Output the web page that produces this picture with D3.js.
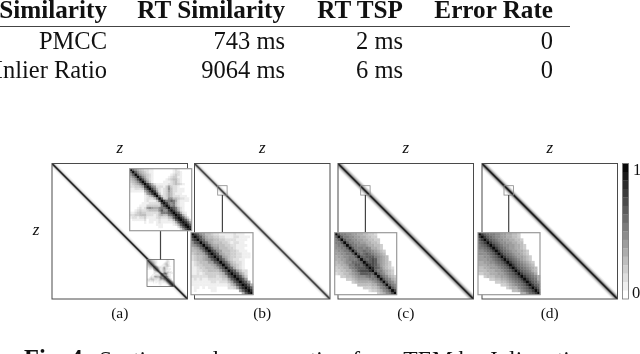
<!DOCTYPE html>
<html><head><meta charset="utf-8">
<script src="https://cdn.jsdelivr.net/npm/d3@7/dist/d3.min.js"></script>
<style>html,body{margin:0;padding:0;background:#fff;overflow:hidden}svg{display:block;filter:blur(0.35px)}text{font-family:"Liberation Serif",serif;fill:#111}</style>
</head><body><svg id="c" width="640" height="354"></svg>
<script>
// ---- table data
const tableHeaders = ["Similarity","RT Similarity","RT TSP","Error Rate"];
const rowNames = ["PMCC","Inlier Ratio"];
const rtSimilarity = ["743 ms","9064 ms"];
const rtTsp = ["2 ms","6 ms"];
const errorRate = ["0","0"];
// ---- panel data
const panelLabels = ["(a)","(b)","(c)","(d)"];
const axisLabel = "z";
const sections = 135;
// darkness of the main matrix by distance from the diagonal
const bandA = [.95,.62,.2,.1,.05,.03,.015];
const bandB = [.8,.55,.22,.12,.06,.03,.015];
const bandC = [.95,.72,.42,.3,.22,.14,.08,.03];
const bandD = [.95,.75,.42,.3,.2,.12,.06,.03];
// magnified upper triangles (hex darkness, row starts at the diagonal)
const insetA = ["fa754322110000000012100000","fa75432110000000012210000","fa754321000000012321000","fb7532100000012331100","fb74210000012344210","fb6310000111234210","fc852111112234321","fc86222136322100","fc842123742211100","fc621236422111000","fb412354211100000","f93235422211100","fa337744322110","fc88a85211110","fc8784211000","fb784211000","fca842100","fc952100","fca52100","fda5200","fda520","fda62","fda6","fda","fd","f"];
const insetB = ["fca7644322111112111000","fca754433221112211110","fb965544332222111100","fb96544433212211000","fb9655443322111100","fc966444332111000","fca7644433211100","fca65443322111","fca6543322111","fb96432211","fb9643221","fb954321","fb95321","fca6422","fca642","fca63","fca6","fca6","fda5","fda","fd","f"];
const insetC = ["fa8877665544332","fa887766554433","fa887766554433","fa88776655443","fa88777655443","fa8887875543","fa8898876543","fa89a987654","fa9aaa87654","fa9aba7654","fbaba76543","fcba86543","fda975432","fa886543","fa87543","fa87543","fa8754","fa875","fa87","fa8","fb","f"];
const insetD = ["fca988776655443","fca98776655443","fca98776655443","fca9877665544","fca9877665543","fca987665543","fca987665543","fca98766543","fca98766543","fca9876543","fca9876543","fca987654","fca987654","fca98754","fca9875","fca9875","fca985","fca97","fca9","fca","fc","f"];
const colorbarStops = [15,14,13,12,11,10,9,8,7,6,5,4,3,2,1,0];
const colorbarTicks = ["1","0"];
const captionBold = "Fig. 4.";
const captionText = "Sections and some section from TEM by Julia ratio";

const svg = d3.select("#c");
const gray = d3.scaleLinear().domain([0,15]).range(["#ffffff","#0a0a0a"]);
const grayUnit = d3.scaleLinear().domain([0,1]).range(["#ffffff","#0a0a0a"]);

// ---- table
const colRight = d3.scaleOrdinal().domain(tableHeaders).range([107,285,403,553]);
const rowY = d3.scaleOrdinal().domain(["h","r0","r1"]).range([18,49,78]);
tableHeaders.forEach(h=>svg.append("text").attr("x",colRight(h)).attr("y",rowY("h")).attr("text-anchor","end")
  .attr("font-size",25.2).attr("font-weight","bold").text(h));
svg.append("line").attr("x1",0).attr("x2",570).attr("y1",26.5).attr("y2",26.5).attr("stroke","#444").attr("stroke-width",1.1);
[rowNames,rtSimilarity,rtTsp,errorRate].forEach((col,ci)=>col.forEach((v,ri)=>
  svg.append("text").attr("x",colRight(tableHeaders[ci])).attr("y",rowY("r"+ri)).attr("text-anchor","end").attr("font-size",24.5).text(v)));

// ---- panels
const panelX = d3.scaleOrdinal().domain(panelLabels).range([52,194.5,338,482]);
const panelSize = 135.5, panelTop = 163.5;
const bands = [bandA,bandB,bandC,bandD];
const insets = [insetA,insetB,insetC,insetD];
// inset frame and zoom box positions, relative to the panel
const insetPos = d3.scaleOrdinal().domain(panelLabels).range([[77.7,5.2,62],[-3.5,69.2,62],[-3.3,69.2,62],[-4,69.2,62]]);
const boxPos = d3.scaleOrdinal().domain(panelLabels).range([[95,96,27],[23.2,22.2,9.4],[22.7,22.2,9.4],[22,22.2,9.4]]);
const defs = svg.append("defs");

panelLabels.forEach((lab,pi)=>{
  const x0 = panelX(lab);
  const x = d3.scaleLinear().domain([0,sections]).range([x0,x0+panelSize]);
  const y = d3.scaleLinear().domain([0,sections]).range([panelTop,panelTop+panelSize]);
  const g = svg.append("g");
  defs.append("clipPath").attr("id","cp"+pi).append("rect").attr("x",x0).attr("y",panelTop).attr("width",panelSize).attr("height",panelSize);
  const bandG = g.append("g").attr("clip-path","url(#cp"+pi+")");
  const line = d3.line().x(d=>x(d[0])).y(d=>y(d[1]));
  bands[pi].map((v,k)=>[v,k]).reverse().forEach(([v,k])=>{
    bandG.append("path").attr("d",line([[0,0],[sections,sections]])).attr("fill","none")
      .attr("stroke",grayUnit(v)).attr("stroke-width",(k+1)*Math.SQRT2*0.72);
  });
  g.append("rect").attr("x",x0).attr("y",panelTop).attr("width",panelSize).attr("height",panelSize)
    .attr("fill","none").attr("stroke","#4a4a4a").attr("stroke-width",1);
  svg.append("text").attr("x",x0+panelSize/2).attr("y",153).attr("text-anchor","middle").attr("font-size",17).attr("font-style","italic").text(axisLabel);
  svg.append("text").attr("x",x0+panelSize/2).attr("y",318).attr("text-anchor","middle").attr("font-size",15.5).text(lab);
});
svg.append("text").attr("x",36).attr("y",235).attr("text-anchor","middle").attr("font-size",17).attr("font-style","italic").text(axisLabel);

function cellData(rows){
  const n = rows.length, data=[];
  rows.forEach((r,i)=>[...r].forEach((c,d)=>{
    if(i+d>=n) return;
    const v=parseInt(c,16);
    data.push({i,j:i+d,v}); if(d>0) data.push({i:i+d,j:i,v});
  }));
  return data;
}
function drawCells(parent,rows,px,py,size){
  const band = d3.scaleBand().domain(d3.range(rows.length)).range([0,size]);
  const cells = parent.append("g").attr("transform",`translate(${px},${py})`);
  cells.append("rect").attr("width",size).attr("height",size).attr("fill","#fff");
  cells.selectAll("rect.c").data(cellData(rows)).join("rect").attr("class","c")
    .attr("x",d=>band(d.j)).attr("y",d=>band(d.i)).attr("width",band.bandwidth()+.3).attr("height",band.bandwidth()+.3)
    .attr("fill",d=>gray(d.v));
  return cells;
}
panelLabels.forEach((lab,pi)=>{
  const x0 = panelX(lab);
  const [bx,by,bs] = boxPos(lab), [ix,iy,is] = insetPos(lab);
  const g = svg.append("g");
  if(pi==0) drawCells(g,insets[pi],x0+bx,panelTop+by,bs);
  g.append("rect").attr("x",x0+bx).attr("y",panelTop+by).attr("width",bs).attr("height",bs).attr("fill","none").attr("stroke",pi==0?"#666":"#888").attr("stroke-width",.8);
  const cx = x0+bx+bs/2;
  g.append("line").attr("x1",cx).attr("x2",cx).attr("y1",pi==0?panelTop+iy+is:panelTop+by+bs).attr("y2",pi==0?panelTop+by:panelTop+iy).attr("stroke","#444").attr("stroke-width",1.2);
  const cells = drawCells(g,insets[pi],x0+ix,panelTop+iy,is);
  cells.append("rect").attr("width",is).attr("height",is).attr("fill","none").attr("stroke","#999").attr("stroke-width",1.2);
});

// ---- colour bar
const cbY = d3.scaleBand().domain(colorbarStops).range([163.5,299]);
svg.append("g").selectAll("rect").data(colorbarStops).join("rect").attr("x",622.5).attr("width",6).attr("y",d=>cbY(d)).attr("height",cbY.bandwidth()+.3).attr("fill",d=>gray(d));
svg.append("rect").attr("x",622.5).attr("y",163.5).attr("width",6).attr("height",135.5).attr("fill","none").attr("stroke","#777").attr("stroke-width",.8);
svg.append("text").attr("x",633).attr("y",175).attr("font-size",16.5).text(colorbarTicks[0]);
svg.append("text").attr("x",632).attr("y",298).attr("font-size",16.5).text(colorbarTicks[1]);

// ---- caption, cut by the bottom edge as in the reference
svg.append("text").attr("x",24).attr("y",366.5).attr("font-size",24.5).attr("font-weight","bold").text(captionBold);
svg.append("text").attr("x",99).attr("y",366.5).attr("font-size",23.5).text(captionText);
</script></body></html>
